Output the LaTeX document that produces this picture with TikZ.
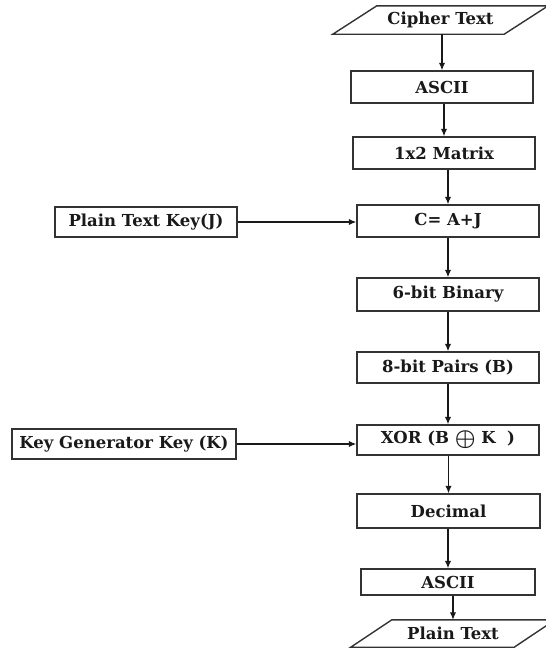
\documentclass[tikz,border=0pt]{standalone}
\usepackage{amsmath}
\usepackage{fontspec}
\setmainfont{DejaVu Serif}
\usetikzlibrary{arrows.meta}
\begin{document}
\begin{tikzpicture}[x=1pt,y=-1pt,
  lbl/.style={font=\fontsize{16.5}{19}\selectfont\bfseries, inner sep=0pt, text=black!90},
  box/.style={lbl, draw=black!80, line width=1.4pt, fill=white},
  arr/.style={line width=1.3pt, draw=black!90, -{Latex[length=7.5pt,width=6.5pt]}},
  io/.style={draw=black!80, line width=1.4pt}]
\useasboundingbox (0,0) rectangle (546,648);
% input / output parallelograms
\node[lbl, minimum width=171pt, minimum height=28pt] (cipher) at (440.5,20) {Cipher Text};
\draw[io] ([xshift=-22pt]cipher.south west) -- ([xshift=22pt]cipher.north west) -- ([xshift=22pt]cipher.north east) -- ([xshift=-22pt]cipher.south east) -- cycle;
\node[lbl, minimum width=163pt, minimum height=27pt] (plain) at (453,633.5) {Plain Text};
\draw[io] ([xshift=-20.5pt]plain.south west) -- ([xshift=20.5pt]plain.north west) -- ([xshift=20.5pt]plain.north east) -- ([xshift=-20.5pt]plain.south east) -- cycle;
% main column
\node[box, minimum width=182pt, minimum height=32pt] (ascii1) at (442,87) {ASCII};
\node[box, minimum width=182pt, minimum height=32pt] (matrix) at (444,153) {1x2 Matrix};
\node[box, minimum width=182pt, minimum height=32pt] (cadd) at (448,221) {C= A+J};
\node[box, minimum width=182pt, minimum height=33pt] (bin6) at (448,294.5) {6-bit Binary};
\node[box, minimum width=182pt, minimum height=31pt] (pairs) at (448,367.5) {8-bit Pairs (B)};
\node[box, minimum width=182pt, minimum height=30pt] (xor) at (448,440) {XOR (B \raisebox{-0.12em}{\scalebox{1.35}{$\boldsymbol{\oplus}$}} K\ \ )};
\node[box, minimum width=183pt, minimum height=34pt] (dec) at (448.5,511) {Decimal};
\node[box, minimum width=174pt, minimum height=26pt] (ascii2) at (448,582) {ASCII};
% key boxes
\node[box, minimum width=182pt, minimum height=30pt] (ptkey) at (146,222) {Plain Text Key(J)};
\node[box, minimum width=224pt, minimum height=30pt] (kgkey) at (124,444) {Key Generator Key (K)};
% connectors
\draw[arr] (cipher.south -| ascii1.north) -- (ascii1.north);
\draw[arr] (ascii1.south -| matrix.north) -- (matrix.north);
\draw[arr] (matrix.south -| cadd.north) -- (cadd.north);
\draw[arr] (cadd.south -| bin6.north) -- (bin6.north);
\draw[arr] (bin6.south -| pairs.north) -- (pairs.north);
\draw[arr] (pairs.south -| xor.north) -- (xor.north);
\draw[arr] (xor.south -| dec.north) -- (dec.north);
\draw[arr] (dec.south -| ascii2.north) -- (ascii2.north);
\draw[arr] (ascii2.south -| plain.north) -- (plain.north);
\draw[arr] (ptkey.east) -- (ptkey.east -| cadd.west);
\draw[arr] (kgkey.east) -- (kgkey.east -| xor.west);
\end{tikzpicture}
\end{document}
